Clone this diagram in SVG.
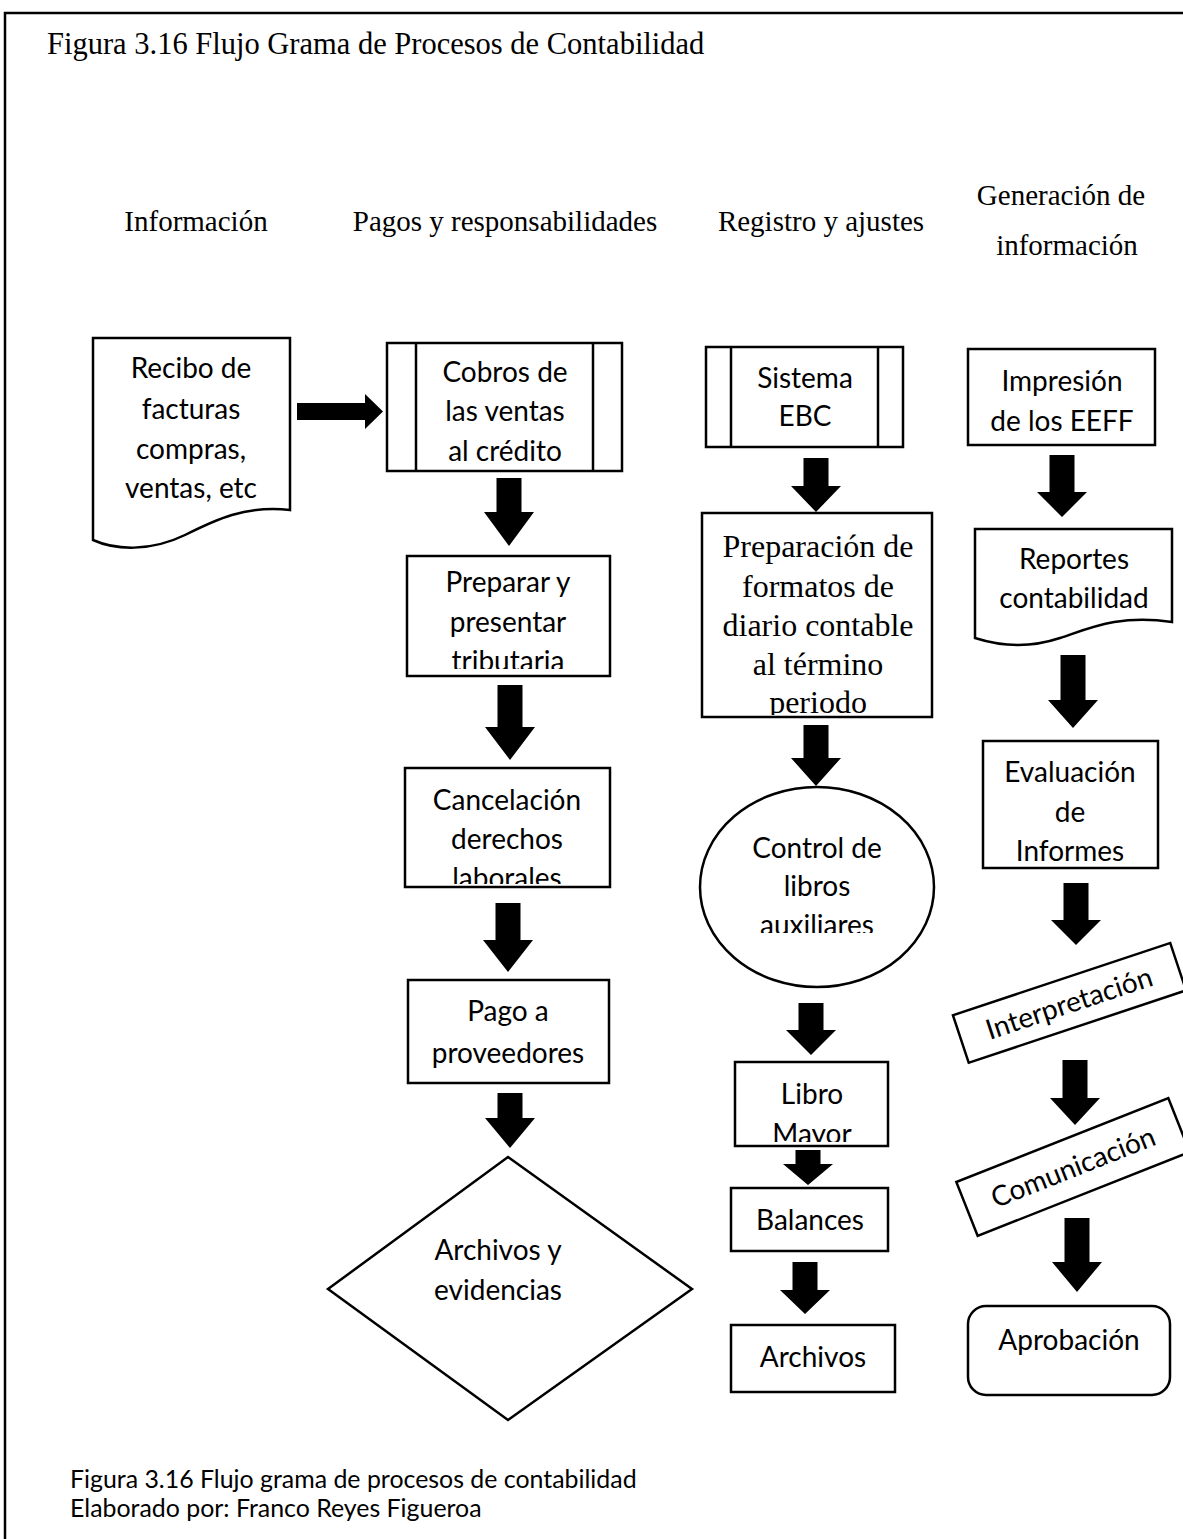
<svg xmlns="http://www.w3.org/2000/svg" width="1183" height="1539" viewBox="0 0 1183 1539">
<style>
.s{fill:#fff;stroke:#000;stroke-width:2.5}
.t{font-family:Lato,"Liberation Sans",sans-serif;font-size:28px;fill:#000;text-anchor:middle}
.h{font-family:"Liberation Serif","Times New Roman",serif;font-size:29px;fill:#000;text-anchor:middle}
.a{fill:#000;stroke:none}
</style>
<defs>
<clipPath id="c1"><rect x="407" y="556" width="203" height="113"/></clipPath>
<clipPath id="c2"><rect x="405" y="768" width="205" height="116"/></clipPath>
<clipPath id="c3"><rect x="702" y="513" width="230" height="202"/></clipPath>
<clipPath id="c4"><rect x="700" y="786" width="235" height="147"/></clipPath>
<clipPath id="c5"><rect x="735" y="1062" width="153" height="80"/></clipPath>
<clipPath id="c6"><rect x="983" y="741" width="175" height="120"/></clipPath>
</defs>
<rect width="1183" height="1539" fill="#fff"/>
<path d="M5,1539 V13 H1183" fill="none" stroke="#000" stroke-width="2.5"/>
<text x="47" y="54" font-family="Liberation Serif,serif" font-size="30.5" fill="#000">Figura 3.16 Flujo Grama de Procesos de Contabilidad</text>
<g id="headers" class="h">
<text x="196" y="231">Información</text>
<text x="505" y="231">Pagos y responsabilidades</text>
<text x="821" y="231">Registro y ajustes</text>
<text x="1061" y="205">Generación de</text>
<text x="1067" y="255">información</text>
</g>
<g id="n1"><path class="s" d="M93,338 H290 V510 C245,505 215,520 185,535 C150,552 115,550 93,540 Z"/>
<text class="t" x="191" y="378">Recibo de</text><text class="t" x="191" y="419">facturas</text><text class="t" x="191" y="459">compras,</text><text class="t" x="191" y="498">ventas, etc</text></g>
<g id="n2"><rect class="s" x="387" y="343" width="235" height="128"/><line class="s" x1="416" y1="343" x2="416" y2="471"/><line class="s" x1="593" y1="343" x2="593" y2="471"/>
<text class="t" x="505" y="382">Cobros de</text><text class="t" x="505" y="421">las ventas</text><text class="t" x="505" y="461">al crédito</text></g>
<g id="n3"><rect class="s" x="407" y="556" width="203" height="120"/>
<g clip-path="url(#c1)"><text class="t" x="508" y="592">Preparar y</text><text class="t" x="508" y="632">presentar</text><text class="t" x="508" y="671">tributaria</text></g></g>
<g id="n4"><rect class="s" x="405" y="768" width="205" height="119"/>
<g clip-path="url(#c2)"><text class="t" x="507" y="810">Cancelación</text><text class="t" x="507" y="849">derechos</text><text class="t" x="507" y="888">laborales</text></g></g>
<g id="n5"><rect class="s" x="408" y="980" width="201" height="103"/>
<text class="t" x="508" y="1021">Pago a</text><text class="t" x="508" y="1063">proveedores</text></g>
<g id="n6"><polygon class="s" points="508,1157 692,1289 508,1420 328,1289"/>
<text class="t" x="498" y="1260">Archivos y</text><text class="t" x="498" y="1300">evidencias</text></g>
<g id="n7"><rect class="s" x="706" y="347" width="197" height="100"/><line class="s" x1="731" y1="347" x2="731" y2="447"/><line class="s" x1="878" y1="347" x2="878" y2="447"/>
<text class="t" x="805" y="388">Sistema</text><text class="t" x="805" y="426">EBC</text></g>
<g id="n8"><rect class="s" x="702" y="513" width="230" height="204"/>
<g clip-path="url(#c3)" font-family="Liberation Serif,serif" font-size="32" text-anchor="middle" fill="#000"><text x="818" y="557">Preparación de</text><text x="818" y="597">formatos de</text><text x="818" y="636">diario contable</text><text x="818" y="675">al término</text><text x="818" y="713">periodo</text></g></g>
<g id="n9"><ellipse class="s" cx="817" cy="887" rx="117" ry="100"/>
<g clip-path="url(#c4)"><text class="t" x="817" y="858">Control de</text><text class="t" x="817" y="896">libros</text><text class="t" x="817" y="935">auxiliares</text></g></g>
<g id="n10"><rect class="s" x="735" y="1062" width="153" height="84"/>
<g clip-path="url(#c5)"><text class="t" x="812" y="1104">Libro</text><text class="t" x="812" y="1144">Mayor</text></g></g>
<g id="n11"><rect class="s" x="731" y="1188" width="157" height="63"/><text class="t" x="810" y="1230">Balances</text></g>
<g id="n12"><rect class="s" x="731" y="1325" width="164" height="67"/><text class="t" x="813" y="1367">Archivos</text></g>
<g id="n13"><rect class="s" x="968" y="349" width="187" height="96"/>
<text class="t" x="1062" y="391">Impresión</text><text class="t" x="1062" y="431">de los EEFF</text></g>
<g id="n14"><path class="s" d="M975,529 H1172 V622 C1120,614 1090,628 1060,638 C1030,648 1000,646 975,638 Z"/>
<text class="t" x="1074" y="569">Reportes</text><text class="t" x="1074" y="608">contabilidad</text></g>
<g id="n15"><rect class="s" x="983" y="741" width="175" height="127"/>
<g clip-path="url(#c6)"><text class="t" x="1070" y="782">Evaluación</text><text class="t" x="1070" y="822">de</text><text class="t" x="1070" y="861">Informes</text></g></g>
<g id="n16" transform="translate(1069,1003) rotate(-18.4)"><rect class="s" x="-114" y="-25" width="229" height="50"/><text class="t" x="0" y="10">Interpretación</text></g>
<g id="n17" transform="translate(1073,1167) rotate(-21.6)"><rect class="s" x="-114" y="-29" width="228" height="58"/><text class="t" x="0" y="10">Comunicación</text></g>
<g id="n18"><rect class="s" x="968" y="1306" width="202" height="89" rx="18"/><text class="t" x="1069" y="1350">Aprobación</text></g>
<g id="connectors" class="a">
<polygon points="297,403 365,403 365,394 383,411.5 365,429 365,420 297,420"/>
<polygon points="496.5,478 521.5,478 521.5,512 534,512 509,546 484,512 496.5,512"/>
<polygon points="497.5,685 522.5,685 522.5,727 535,727 510,760 485,727 497.5,727"/>
<polygon points="495.5,903 520.5,903 520.5,940 533,940 508,972 483,940 495.5,940"/>
<polygon points="497.5,1093 522.5,1093 522.5,1118 535,1118 510,1148 485,1118 497.5,1118"/>
<polygon points="803.5,458 828.5,458 828.5,486 841,486 816,512 791,486 803.5,486"/>
<polygon points="803.5,725 828.5,725 828.5,758 841,758 816,786 791,758 803.5,758"/>
<polygon points="798.5,1003 823.5,1003 823.5,1030 836,1030 811,1055 786,1030 798.5,1030"/>
<polygon points="795.5,1150 820.5,1150 820.5,1164 833,1164 808,1185 783,1164 795.5,1164"/>
<polygon points="792.5,1262 817.5,1262 817.5,1290 830,1290 805,1314 780,1290 792.5,1290"/>
<polygon points="1049.5,455 1074.5,455 1074.5,492 1087,492 1062,517 1037,492 1049.5,492"/>
<polygon points="1060.5,655 1085.5,655 1085.5,700 1098,700 1073,728 1048,700 1060.5,700"/>
<polygon points="1063.5,883 1088.5,883 1088.5,920 1101,920 1076,945 1051,920 1063.5,920"/>
<polygon points="1062.5,1060 1087.5,1060 1087.5,1098 1100,1098 1075,1125 1050,1098 1062.5,1098"/>
<polygon points="1064.5,1218 1089.5,1218 1089.5,1262 1102,1262 1077,1292 1052,1262 1064.5,1262"/>
</g>
<g id="caption" font-family="Lato,'Liberation Sans',sans-serif" font-size="24.9" fill="#000">
<text x="70" y="1488">Figura 3.16 Flujo grama de procesos de contabilidad</text>
<text x="70" y="1517">Elaborado por: Franco Reyes Figueroa</text>
</g>
</svg>
